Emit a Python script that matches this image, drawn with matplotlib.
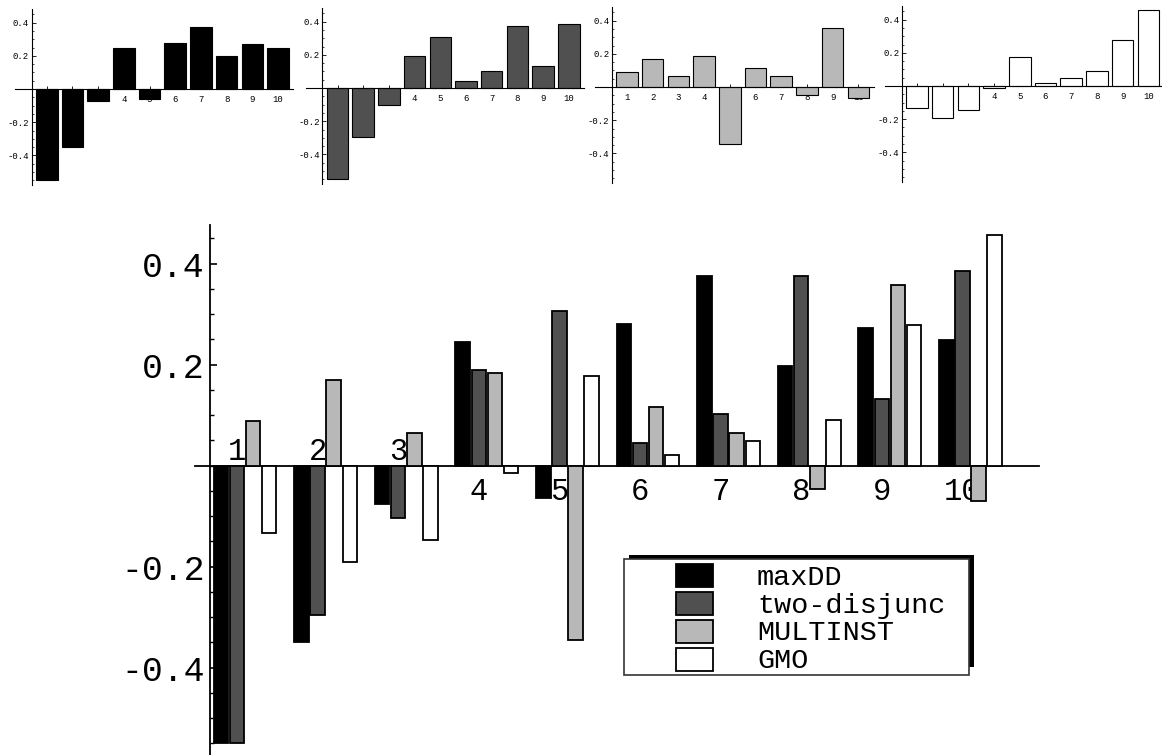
import matplotlib
matplotlib.use("Agg")
import matplotlib.pyplot as plt
from matplotlib.patches import Rectangle
from matplotlib.ticker import MultipleLocator, FixedLocator

plt.rcParams['axes.unicode_minus'] = False
plt.rcParams['font.family'] = ['Liberation Mono', 'DejaVu Sans Mono']

# ---------------- data ----------------
categories = ["1", "2", "3", "4", "5", "6", "7", "8", "9", "10"]
series_names = ["maxDD", "two-disjunc", "MULTINST", "GMO"]
maxDD = [-0.55, -0.35, -0.075, 0.245, -0.063, 0.280, 0.376, 0.198, 0.273, 0.249]
two_disjunc = [-0.55, -0.295, -0.104, 0.190, 0.307, 0.045, 0.102, 0.375, 0.132, 0.386]
multinst = [0.088, 0.170, 0.064, 0.184, -0.345, 0.117, 0.064, -0.046, 0.358, -0.069]
gmo = [-0.133, -0.190, -0.147, -0.014, 0.177, 0.021, 0.049, 0.090, 0.279, 0.457]
series = [maxDD, two_disjunc, multinst, gmo]
colors = ['#000000', '#505050', '#b8b8b8', '#ffffff']
ytick_vals = [-0.4, -0.2, 0.2, 0.4]

W, H = 1162, 755
fig = plt.figure(figsize=(W / 100, H / 100), dpi=100)


def px_rect(left, top, w, h):
    return [left / W, 1 - (top + h) / H, w / W, h / H]


xs = list(range(1, len(categories) + 1))

# ---------------- small plots ----------------
c1s = [46.75, 337.5, 627, 917]
zeros = [89, 88, 87, 86]
sp = 25.7
yscale = 166
for k in range(4):
    ax = fig.add_axes(px_rect(c1s[k] - 1.24 * sp, zeros[k] - 0.48 * yscale,
                              10.84 * sp, 1.06 * yscale))
    ax.patch.set_alpha(0)
    ax.set_axisbelow(True)
    ax.bar(xs, series[k], width=0.84, color=colors[k], edgecolor='black',
           linewidth=0.8, zorder=1)
    ax.set_xlim(-0.24, 10.6)
    ax.set_ylim(-0.58, 0.48)
    for s in ['top', 'right']:
        ax.spines[s].set_visible(False)
    ax.spines['left'].set_position(('data', 0.416))
    ax.spines['bottom'].set_position(('data', 0))
    ax.spines['left'].set_linewidth(0.8)
    ax.spines['bottom'].set_linewidth(0.8)
    ax.set_xticks(xs)
    ax.set_xticklabels(categories, fontsize=6.5)
    ax.tick_params(axis='x', direction='in', length=2, width=0.6, pad=4)
    ax.yaxis.set_major_locator(FixedLocator(ytick_vals))
    ax.set_yticklabels([f"{v:.1f}" for v in ytick_vals], fontsize=6.5)
    ax.yaxis.set_minor_locator(MultipleLocator(0.05))
    ax.tick_params(axis='y', which='major', direction='in', length=3, width=0.6, pad=2)
    ax.tick_params(axis='y', which='minor', direction='in', length=1.5, width=0.5)

# ---------------- main plot ----------------
gx = 80.6
ys = 505
axm = fig.add_axes(px_rect(237 - 0.52 * gx, 465.7 - 0.477 * ys, 10.47 * gx, 1.05 * ys))
axm.patch.set_alpha(0)
offsets = [-0.2, 0.0, 0.2, 0.4]
for vals, col, off in zip(series, colors, offsets):
    axm.bar([x + off for x in xs], vals, width=0.18, color=col,
            edgecolor='black', linewidth=1.3, zorder=3)
axm.set_xlim(0.48, 10.95)
axm.set_ylim(-0.573, 0.477)
for s in ['top', 'right']:
    axm.spines[s].set_visible(False)
axm.spines['left'].set_position(('data', 0.665))
axm.spines['bottom'].set_position(('data', 0))
axm.spines['left'].set_linewidth(1.3)
axm.spines['bottom'].set_linewidth(1.3)
axm.set_xticks([])
axm.yaxis.set_major_locator(FixedLocator(ytick_vals))
axm.set_yticklabels([f"{v:.1f}" for v in ytick_vals], fontsize=25)
axm.yaxis.set_minor_locator(MultipleLocator(0.05))
axm.tick_params(axis='y', which='major', direction='in', length=5, width=1.2, pad=4)
axm.tick_params(axis='y', which='minor', direction='in', length=3, width=1.0)

for x, lab, v in zip(xs, categories, two_disjunc):
    if v < 0:
        axm.annotate(lab, (x, 0), xytext=(0, 4), textcoords='offset points',
                     ha='center', va='baseline', fontsize=22, zorder=2)
    else:
        axm.annotate(lab, (x, 0), xytext=(0, -24.7), textcoords='offset points',
                     ha='center', va='baseline', fontsize=22, zorder=2)

# ---------------- legend (drawn in pixel coordinates) ----------------
ol = fig.add_axes([0, 0, 1, 1])
ol.set_xlim(0, W)
ol.set_ylim(H, 0)
ol.axis('off')
ol.patch.set_alpha(0)
bx0, by0, bx1, by1 = 624, 559, 969, 675
ol.add_patch(Rectangle((bx0 + 5, by0 - 4), bx1 - bx0, by1 - by0 - 4,
                       facecolor='black', edgecolor='black', linewidth=0, zorder=5))
box = Rectangle((bx0, by0), bx1 - bx0, by1 - by0, facecolor='white',
                edgecolor='#333333', linewidth=1.2, zorder=6)
ol.add_patch(box)
for i, (name, col) in enumerate(zip(series_names, colors)):
    cy = 575.5 + i * 28
    ol.add_patch(Rectangle((676, cy - 11.5), 37, 23, facecolor=col,
                           edgecolor='black', linewidth=1.3, zorder=7))
    t = ol.text(757, 585 + i * 27.7, name, fontsize=20.5, ha='left',
                va='baseline', zorder=7)
    t.set_clip_path(box)

fig.savefig("out.png", dpi=100)
